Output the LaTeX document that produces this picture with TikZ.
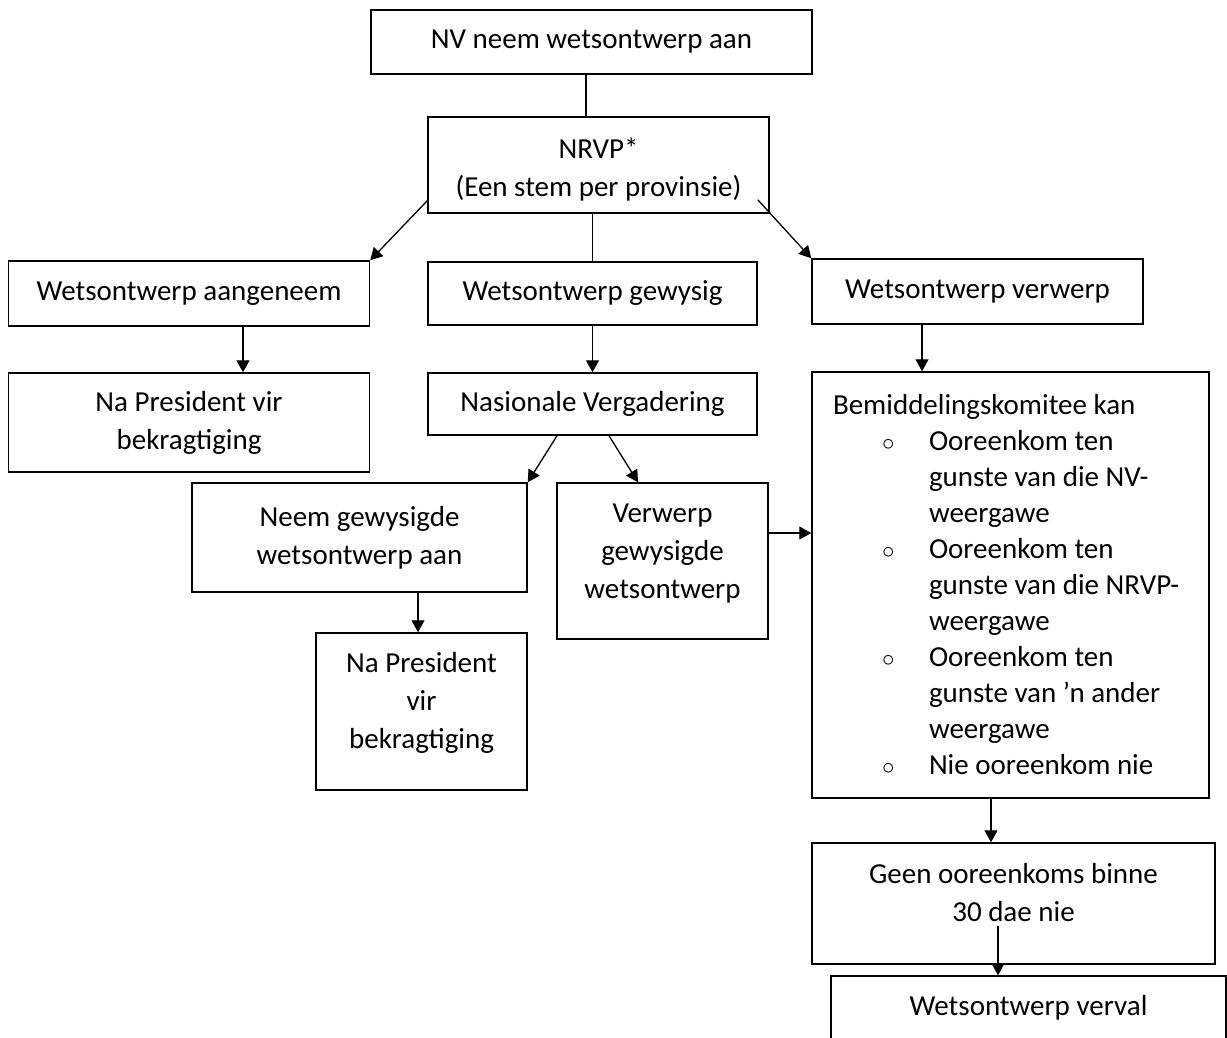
\documentclass[tikz,border=0pt]{standalone}
\usepackage{fontspec}
\setmainfont{Carlito}
\usepackage{tikz}
\usetikzlibrary{arrows.meta,calc}
\newcommand{\kbullet}{\hspace*{49pt}\makebox[47pt][l]{$\circ$}}
\newcommand{\kindent}{\hspace*{96pt}}

\begin{document}
\begin{tikzpicture}[
    x=1pt, y=-1pt,
    box/.style={draw, line width=1.5pt, align=center, inner sep=0pt, font=\fontsize{29pt}{38pt}\selectfont},
    arr/.style={line width=1.3pt, -{Triangle[length=12pt,width=13pt]}},
    link/.style={line width=1.3pt}
]
\useasboundingbox (0,0) rectangle (1227,1037);
\clip (0,0) rectangle (1227,1037);
\fill[white] (0,0) rectangle (1227,1037);

% Top
\node[box, minimum width=441pt, minimum height=64pt] (nv) at (591.5, 42) {NV neem wetsontwerp aan};
\node[box, minimum width=341pt, minimum height=96pt] (nrvp) at (598.5, 165) {\mbox{}\\[-9pt]NRVP*\\(Een stem per provinsie)};

% Second row
\node[box, minimum width=361pt, minimum height=65pt] (aang) at (189, 293.5) {Wetsontwerp aangeneem};
\node[box, minimum width=329pt, minimum height=63pt] (gewys) at (592.5, 293.5) {Wetsontwerp gewysig};
\node[box, minimum width=331pt, minimum height=65pt] (verwerp) at (977.5, 291.5) {Wetsontwerp verwerp};

% Third row
\node[box, minimum width=361pt, minimum height=99pt] (pres1) at (189, 422.5) {Na President vir\\bekragtiging};
\node[box, minimum width=329pt, minimum height=62pt] (nasio) at (592.5, 404) {Nasionale Vergadering};
\node[box, minimum width=397pt, minimum height=426pt, text width=355pt, align=left, inner xsep=21pt,
      font=\fontsize{29pt}{36pt}\selectfont] (bemid) at (1010.5, 585)
  {\spaceskip=0pt\xspaceskip=0pt
   Bemiddelingskomitee kan\\
   \kbullet\mbox{Ooreenkom ten}\\
   \kindent\mbox{gunste van die NV-}\\
   \kindent\mbox{weergawe}\\
   \kbullet\mbox{Ooreenkom ten}\\
   \kindent\mbox{gunste van die NRVP-}\\
   \kindent\mbox{weergawe}\\
   \kbullet\mbox{Ooreenkom ten}\\
   \kindent\mbox{gunste van ’n ander}\\
   \kindent\mbox{weergawe}\\
   \kbullet\mbox{Nie ooreenkom nie}};

% Nasionale Vergadering outcomes
\node[box, minimum width=335pt, minimum height=109pt] (neem) at (359.5, 537.5) {Neem gewysigde\\wetsontwerp aan};
\node[box, minimum width=211pt, minimum height=156pt] (verw2) at (662.5, 561) {Verwerp\\gewysigde\\wetsontwerp\\[-18pt]\mbox{}};
\node[box, minimum width=211pt, minimum height=157pt] (pres2) at (421.5, 711.5) {Na President\\vir\\bekragtiging\\[-16pt]\mbox{}};

% Bottom right
\node[box, minimum width=403pt, minimum height=121pt] (geen) at (1013.5, 903.5) {Geen ooreenkoms binne\\30 dae nie\\[-16pt]\mbox{}};
\node[box, minimum width=395pt, minimum height=64pt] (verval) at (1028.5, 1008) {Wetsontwerp verval};

% Connectors
\draw[link] ([xshift=-5.5pt]nv.south) -- ([xshift=-5.5pt]nv.south |- nrvp.north);
\draw[arr] ([yshift=13pt]nrvp.south west) -- (aang.north east);
\draw[link] (gewys.north |- nrvp.south) -- (gewys.north);
\draw[arr] ([shift={(-12pt,14pt)}]nrvp.south east) -- (verwerp.north west);

\draw[arr] ([xshift=54pt]aang.south) -- ([xshift=54pt]pres1.north);
\draw[arr] (gewys.south) -- (nasio.north);
\draw[arr] ([xshift=-55.5pt]verwerp.south) -- ([xshift=-55.5pt]verwerp.south |- bemid.north);

\draw[arr] ([xshift=-35.5pt]nasio.south) -- (neem.north east);
\draw[arr] ([xshift=16.5pt]nasio.south) -- ([xshift=-24.5pt]verw2.north);
\draw[arr] ([xshift=-3.5pt]pres2.north |- neem.south) -- ([xshift=-3.5pt]pres2.north);
\draw[arr] ([yshift=28pt]verw2.east) -- ([yshift=28pt]verw2.east -| bemid.west);

\draw[arr] ([xshift=-19.5pt]bemid.south) -- ([xshift=-19.5pt]bemid.south |- geen.north);
\draw[arr] ([shift={(-15.5pt,39pt)}]geen.south) -- ([xshift=-30.5pt]verval.north);

\end{tikzpicture}
\end{document}
